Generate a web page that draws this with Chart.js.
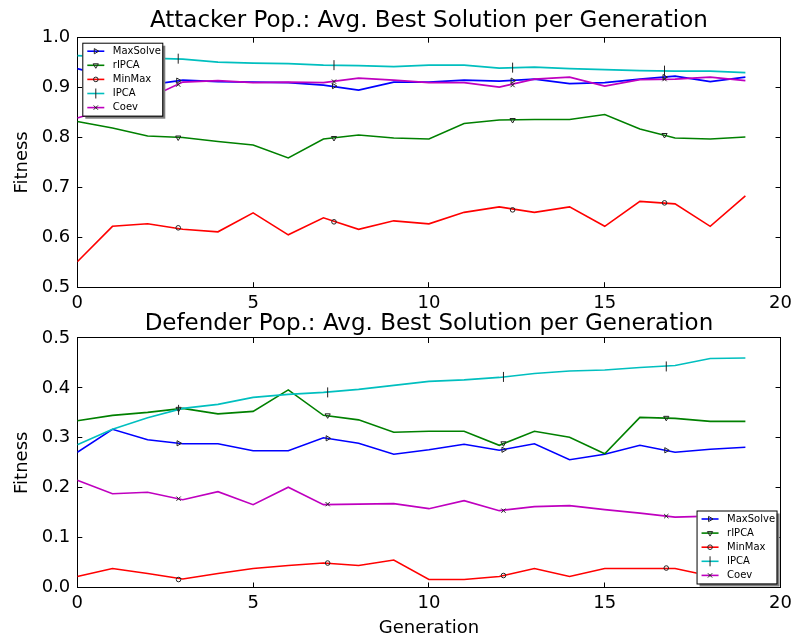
<!DOCTYPE html>
<html>
<head>
<meta charset="utf-8">
<script src="https://cdn.jsdelivr.net/npm/chart.js@4.4.1/dist/chart.umd.min.js"></script>
<style>
html, body { margin: 0; padding: 0; background: #fff; }
#wrap { position: relative; width: 802px; height: 644px; overflow: hidden; }
canvas { position: absolute; left: 0; }
#attacker { top: 0; }
#defender { top: 310px; }
</style>
</head>
<body>
<div id="wrap">
  <canvas id="attacker" width="802" height="310"></canvas>
  <canvas id="defender" width="802" height="334"></canvas>
</div>
<script>
// generations on the x axis
const generations = [0, 1, 2, 3, 4, 5, 6, 7, 8, 9, 10, 11, 12, 13, 14, 15, 16, 17, 18, 19];
const seriesNames = ['MaxSolve', 'rIPCA', 'MinMax', 'IPCA', 'Coev'];

// tick values
const xTickValues = [0, 5, 10, 15, 20];
const attackerTickValues = [0.5, 0.6, 0.7, 0.8, 0.9, 1.0];
const defenderTickValues = [0.0, 0.1, 0.2, 0.3, 0.4, 0.5];

// Attacker population
const attackerMaxSolve = [0.938, 0.920, 0.905, 0.915, 0.912, 0.911, 0.910, 0.905, 0.895, 0.911, 0.911, 0.915, 0.913, 0.917, 0.908, 0.910, 0.917, 0.923, 0.912, 0.921];
const attackerRIPCA    = [0.832, 0.819, 0.803, 0.800, 0.792, 0.785, 0.759, 0.797, 0.805, 0.799, 0.797, 0.828, 0.835, 0.836, 0.836, 0.846, 0.817, 0.799, 0.797, 0.801];
const attackerMinMax   = [0.551, 0.622, 0.627, 0.616, 0.611, 0.649, 0.605, 0.639, 0.616, 0.633, 0.627, 0.650, 0.661, 0.650, 0.661, 0.622, 0.672, 0.667, 0.622, 0.683];
const attackerIPCA     = [0.964, 0.961, 0.959, 0.957, 0.951, 0.949, 0.948, 0.945, 0.944, 0.942, 0.945, 0.945, 0.939, 0.941, 0.938, 0.936, 0.934, 0.933, 0.933, 0.930];
const attackerCoev     = [0.839, 0.860, 0.878, 0.911, 0.914, 0.910, 0.911, 0.910, 0.919, 0.915, 0.910, 0.910, 0.901, 0.917, 0.921, 0.903, 0.916, 0.917, 0.921, 0.914];

// sparse markers of the attacker plot
const attackerMarkX = [2.87, 7.3, 12.38, 16.7];
const attackerMarkMaxSolve = [0.914, 0.903, 0.914, 0.921];
const attackerMarkRIPCA    = [0.800, 0.799, 0.835, 0.805];
const attackerMarkMinMax   = [0.619, 0.631, 0.655, 0.669];
const attackerMarkIPCA     = [0.958, 0.945, 0.940, 0.934];
const attackerMarkCoev     = [0.906, 0.912, 0.905, 0.917];

// Defender population
const defenderMaxSolve = [0.271, 0.317, 0.296, 0.288, 0.288, 0.274, 0.274, 0.300, 0.289, 0.267, 0.276, 0.287, 0.275, 0.288, 0.256, 0.267, 0.285, 0.271, 0.277, 0.281];
const defenderRIPCA    = [0.334, 0.345, 0.351, 0.359, 0.348, 0.353, 0.396, 0.345, 0.336, 0.311, 0.313, 0.313, 0.285, 0.313, 0.301, 0.268, 0.341, 0.339, 0.333, 0.333];
const defenderMinMax   = [0.022, 0.038, 0.028, 0.017, 0.028, 0.038, 0.044, 0.049, 0.044, 0.055, 0.016, 0.016, 0.022, 0.038, 0.022, 0.038, 0.038, 0.038, 0.023, 0.028];
const defenderIPCA     = [0.286, 0.317, 0.340, 0.359, 0.367, 0.381, 0.387, 0.391, 0.397, 0.405, 0.413, 0.416, 0.421, 0.429, 0.434, 0.436, 0.441, 0.445, 0.459, 0.460];
const defenderCoev     = [0.215, 0.188, 0.191, 0.176, 0.192, 0.166, 0.201, 0.166, 0.167, 0.168, 0.158, 0.174, 0.154, 0.162, 0.164, 0.156, 0.149, 0.141, 0.143, 0.146];

// sparse markers of the defender plot
const defenderMarkX = [2.88, 7.12, 12.12, 16.75];
const defenderMarkMaxSolve = [0.289, 0.299, 0.276, 0.275];
const defenderMarkRIPCA    = [0.358, 0.345, 0.289, 0.340];
const defenderMarkMinMax   = [0.016, 0.049, 0.024, 0.039];
const defenderMarkIPCA     = [0.356, 0.391, 0.422, 0.443];
const defenderMarkCoev     = [0.178, 0.167, 0.154, 0.143];

// line colours and marker looks (matplotlib classic)
const styles = [
    { color: '#0000ff', marker: 'triangle', rotation: 90, radius: 3 },
    { color: '#008000', marker: 'triangle', rotation: 180, radius: 3 },
    { color: '#ff0000', marker: 'circle', rotation: 0, radius: 2.3 },
    { color: '#00bfbf', marker: 'line', rotation: 90, radius: 5 },
    { color: '#bf00bf', marker: 'crossRot', rotation: 0, radius: 3 }
];
const markerColor = '#222';

Chart.defaults.font.family = "'DejaVu Sans', sans-serif";
Chart.defaults.color = '#000';

function toPoints(xs, ys) {
    return ys.map((v, i) => ({ x: xs[i], y: v }));
}

function buildDatasets(lines, markX, marks) {
    const sets = [];
    lines.forEach((vals, i) => {
        sets.push({
            type: 'line',
            label: seriesNames[i],
            data: toPoints(generations, vals),
            borderColor: styles[i].color,
            borderWidth: 1.6,
            pointRadius: 0,
            fill: false,
            tension: 0,
            order: 10 - i
        });
    });
    marks.forEach((vals, i) => {
        sets.push({
            type: 'line',
            label: seriesNames[i] + ' markers',
            data: toPoints(markX, vals),
            showLine: false,
            pointStyle: styles[i].marker,
            rotation: styles[i].rotation,
            pointRadius: styles[i].radius,
            pointHoverRadius: styles[i].radius,
            pointBorderColor: markerColor,
            pointBackgroundColor: 'rgba(0,0,0,0)',
            pointBorderWidth: 1,
            order: 0
        });
    });
    return sets;
}

// matplotlib style legend box with a drop shadow
const boxLegend = {
    id: 'boxLegend',
    afterDraw(chart, args, opts) {
        const ctx = chart.ctx;
        const a = chart.chartArea;
        const w = 80, h = 73;
        const x = opts.corner === 'tl' ? a.left + 5 : a.right - 4 - w;
        const y = opts.corner === 'tl' ? a.top + 5 : a.bottom - 4 - h;
        ctx.save();
        ctx.fillStyle = '#7f7f7f';
        ctx.fillRect(x + 3, y + 3, w, h);
        ctx.fillStyle = '#fff';
        ctx.fillRect(x, y, w, h);
        ctx.strokeStyle = '#000';
        ctx.lineWidth = 1;
        ctx.strokeRect(x + 0.5, y + 0.5, w, h);
        seriesNames.forEach((name, i) => {
            const ly = y + 8.5 + i * 14.1;
            ctx.strokeStyle = styles[i].color;
            ctx.lineWidth = 1.6;
            ctx.beginPath();
            ctx.moveTo(x + 5, ly);
            ctx.lineTo(x + 22, ly);
            ctx.stroke();
            ctx.strokeStyle = markerColor;
            ctx.fillStyle = 'rgba(0,0,0,0)';
            ctx.lineWidth = 1;
            Chart.helpers.drawPoint(ctx, {
                pointStyle: styles[i].marker,
                rotation: styles[i].rotation,
                radius: styles[i].radius,
                borderWidth: 1
            }, x + 13.5, ly);
            ctx.fillStyle = '#000';
            ctx.font = "10px 'DejaVu Sans', sans-serif";
            ctx.textBaseline = 'middle';
            ctx.textAlign = 'left';
            ctx.fillText(name, x + 30.5, ly);
        });
        ctx.restore();
    }
};

function tickList(values) {
    return function (scale) {
        scale.ticks = values.map(v => ({ value: v }));
    };
}

function makeChart(canvasId, opts) {
    const frame = {
        display: true,
        drawOnChartArea: false,
        drawTicks: true,
        tickLength: -5,
        color: '#000',
        lineWidth: 1
    };
    const border = { display: true, color: '#000', width: 1 };
    return new Chart(document.getElementById(canvasId), {
        data: { datasets: opts.datasets },
        options: {
            responsive: false,
            animation: false,
            events: [],
            layout: { padding: 0 },
            plugins: {
                legend: { display: false },
                tooltip: { enabled: false },
                title: {
                    display: true,
                    text: opts.title,
                    fullSize: false,
                    font: { size: 23, weight: 'normal' },
                    color: '#000',
                    padding: opts.titlePadding
                },
                boxLegend: { corner: opts.corner }
            },
            scales: {
                x: {
                    type: 'linear',
                    position: 'bottom',
                    min: 0,
                    max: 20,
                    afterBuildTicks: tickList(xTickValues),
                    grid: frame,
                    border: border,
                    ticks: { font: { size: 18 }, padding: 10, maxRotation: 0 },
                    title: opts.xTitle ? {
                        display: true,
                        text: 'Generation',
                        font: { size: 18 },
                        padding: { top: 0, bottom: 5 }
                    } : { display: false },
                    afterFit: s => { s.height = opts.xHeight; }
                },
                x2: {
                    type: 'linear',
                    position: 'top',
                    min: 0,
                    max: 20,
                    afterBuildTicks: tickList(xTickValues),
                    grid: frame,
                    border: border,
                    ticks: { display: false },
                    afterFit: s => { s.height = 0; }
                },
                y: {
                    type: 'linear',
                    position: 'left',
                    min: opts.yMin,
                    max: opts.yMax,
                    afterBuildTicks: tickList(opts.yTicks),
                    grid: frame,
                    border: border,
                    ticks: {
                        font: { size: 18 },
                        padding: 12,
                        callback: v => v.toFixed(1)
                    },
                    title: {
                        display: true,
                        text: 'Fitness',
                        font: { size: 18 },
                        padding: { top: 12, bottom: 0 }
                    },
                    afterFit: s => { s.width = 77.3; }
                },
                y2: {
                    type: 'linear',
                    position: 'right',
                    min: opts.yMin,
                    max: opts.yMax,
                    afterBuildTicks: tickList(opts.yTicks),
                    grid: frame,
                    border: border,
                    ticks: { display: false },
                    afterFit: s => { s.width = 15.3; }
                }
            }
        },
        plugins: [boxLegend]
    });
}

makeChart('attacker', {
    title: 'Attacker Pop.: Avg. Best Solution per Generation',
    titlePadding: { top: 7.2, bottom: 2.9 },
    datasets: buildDatasets(
        [attackerMaxSolve, attackerRIPCA, attackerMinMax, attackerIPCA, attackerCoev],
        attackerMarkX,
        [attackerMarkMaxSolve, attackerMarkRIPCA, attackerMarkMinMax, attackerMarkIPCA, attackerMarkCoev]
    ),
    yMin: 0.5,
    yMax: 1.0,
    yTicks: attackerTickValues,
    xHeight: 22.3,
    xTitle: false,
    corner: 'tl'
});

makeChart('defender', {
    title: 'Defender Pop.: Avg. Best Solution per Generation',
    titlePadding: { top: 0, bottom: 0.4 },
    datasets: buildDatasets(
        [defenderMaxSolve, defenderRIPCA, defenderMinMax, defenderIPCA, defenderCoev],
        defenderMarkX,
        [defenderMarkMaxSolve, defenderMarkRIPCA, defenderMarkMinMax, defenderMarkIPCA, defenderMarkCoev]
    ),
    yMin: 0.0,
    yMax: 0.5,
    yTicks: defenderTickValues,
    xHeight: 56.5,
    xTitle: true,
    corner: 'br'
});
</script>
</body>
</html>
